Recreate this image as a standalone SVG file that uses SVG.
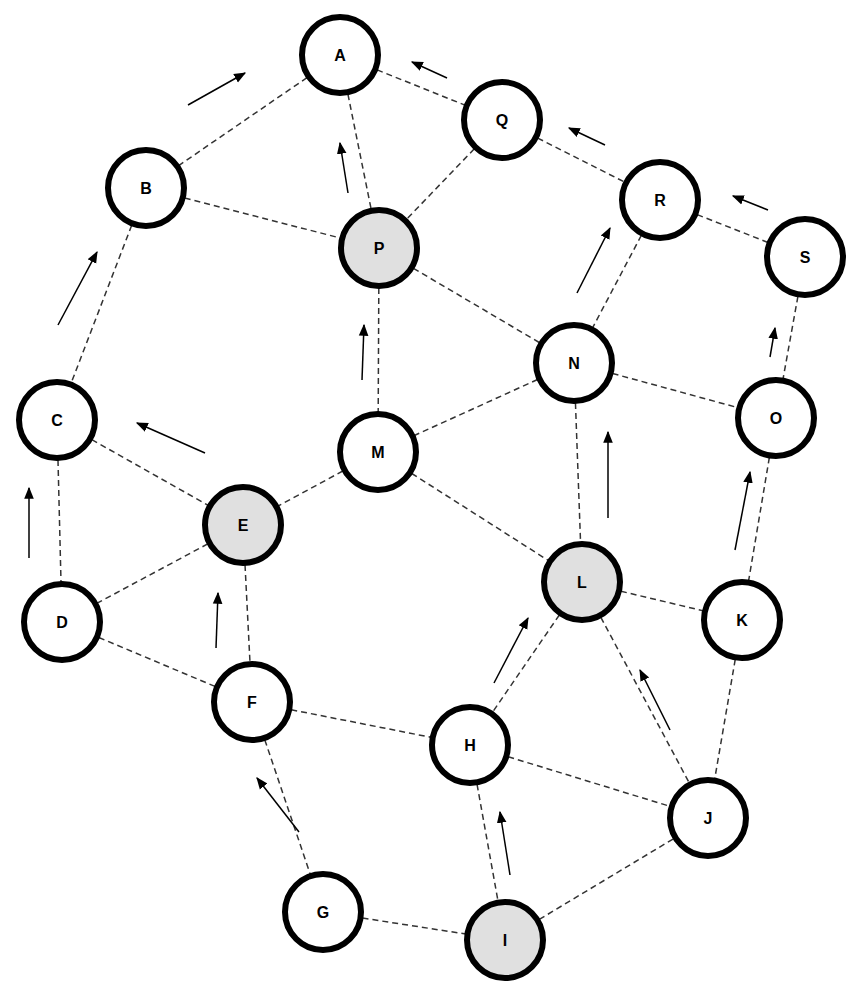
<svg xmlns="http://www.w3.org/2000/svg" width="866" height="1000" viewBox="0 0 866 1000">
<style>
.e{stroke:#333;stroke-width:1.5;stroke-dasharray:6,4;fill:none}
.a{stroke:#000;stroke-width:1.5;fill:none;marker-end:url(#h)}
.n circle{fill:#fff;stroke:#000;stroke-width:6}
.g circle{fill:#e0e0e0}
.n text{font-family:"Liberation Sans",Arial,sans-serif;font-weight:bold;font-size:16px;text-anchor:middle;dominant-baseline:central}
</style>
<defs><marker id="h" viewBox="0 0 10 10" refX="9" refY="5" markerWidth="8" markerHeight="8" orient="auto"><path d="M0,1 L10,5 L0,9 z" fill="#000"/></marker></defs>
<rect width="866" height="1000" fill="#fff"/>
<g id="connectors">
<line class="e" x1="340" y1="55" x2="146" y2="188"/>
<line class="e" x1="340" y1="55" x2="379" y2="248"/>
<line class="e" x1="340" y1="55" x2="502" y2="120"/>
<line class="e" x1="146" y1="188" x2="379" y2="248"/>
<line class="e" x1="146" y1="188" x2="57" y2="420"/>
<line class="e" x1="502" y1="120" x2="379" y2="248"/>
<line class="e" x1="502" y1="120" x2="660" y2="200"/>
<line class="e" x1="660" y1="200" x2="805" y2="257"/>
<line class="e" x1="660" y1="200" x2="574" y2="363"/>
<line class="e" x1="379" y1="248" x2="574" y2="363"/>
<line class="e" x1="379" y1="248" x2="378" y2="452"/>
<line class="e" x1="574" y1="363" x2="776" y2="418"/>
<line class="e" x1="574" y1="363" x2="378" y2="452"/>
<line class="e" x1="574" y1="363" x2="582" y2="582"/>
<line class="e" x1="805" y1="257" x2="776" y2="418"/>
<line class="e" x1="776" y1="418" x2="742" y2="620"/>
<line class="e" x1="57" y1="420" x2="243" y2="525"/>
<line class="e" x1="57" y1="420" x2="62" y2="622"/>
<line class="e" x1="378" y1="452" x2="243" y2="525"/>
<line class="e" x1="378" y1="452" x2="582" y2="582"/>
<line class="e" x1="243" y1="525" x2="62" y2="622"/>
<line class="e" x1="243" y1="525" x2="252" y2="702"/>
<line class="e" x1="62" y1="622" x2="252" y2="702"/>
<line class="e" x1="582" y1="582" x2="742" y2="620"/>
<line class="e" x1="582" y1="582" x2="470" y2="745"/>
<line class="e" x1="582" y1="582" x2="708" y2="818"/>
<line class="e" x1="742" y1="620" x2="708" y2="818"/>
<line class="e" x1="252" y1="702" x2="470" y2="745"/>
<line class="e" x1="252" y1="702" x2="323" y2="912"/>
<line class="e" x1="470" y1="745" x2="708" y2="818"/>
<line class="e" x1="470" y1="745" x2="505" y2="940"/>
<line class="e" x1="323" y1="912" x2="505" y2="940"/>
<line class="e" x1="505" y1="940" x2="708" y2="818"/>
<line class="a" x1="188" y1="105" x2="245" y2="73"/>
<line class="a" x1="348" y1="193" x2="340" y2="143"/>
<line class="a" x1="447" y1="78" x2="412" y2="62"/>
<line class="a" x1="605" y1="145" x2="569" y2="128"/>
<line class="a" x1="768" y1="210" x2="733" y2="196"/>
<line class="a" x1="577" y1="293" x2="610" y2="228"/>
<line class="a" x1="362" y1="380" x2="364" y2="325"/>
<line class="a" x1="58" y1="325" x2="97" y2="252"/>
<line class="a" x1="205" y1="453" x2="137" y2="423"/>
<line class="a" x1="29" y1="558" x2="29" y2="488"/>
<line class="a" x1="216" y1="648" x2="218" y2="593"/>
<line class="a" x1="608" y1="518" x2="608" y2="432"/>
<line class="a" x1="494" y1="683" x2="528" y2="618"/>
<line class="a" x1="670" y1="730" x2="640" y2="670"/>
<line class="a" x1="735" y1="550" x2="750" y2="472"/>
<line class="a" x1="770" y1="357" x2="775" y2="328"/>
<line class="a" x1="510" y1="875" x2="500" y2="812"/>
<line class="a" x1="299" y1="832" x2="257" y2="778"/>
</g>
<g id="A" class="n"><circle cx="340" cy="55" r="38"/><text x="340" y="55">A</text></g>
<g id="Q" class="n"><circle cx="502" cy="120" r="38"/><text x="502" y="120">Q</text></g>
<g id="B" class="n"><circle cx="146" cy="188" r="38"/><text x="146" y="188">B</text></g>
<g id="P" class="n g"><circle cx="379" cy="248" r="38"/><text x="379" y="248">P</text></g>
<g id="R" class="n"><circle cx="660" cy="200" r="38"/><text x="660" y="200">R</text></g>
<g id="S" class="n"><circle cx="805" cy="257" r="38"/><text x="805" y="257">S</text></g>
<g id="N" class="n"><circle cx="574" cy="363" r="38"/><text x="574" y="363">N</text></g>
<g id="O" class="n"><circle cx="776" cy="418" r="38"/><text x="776" y="418">O</text></g>
<g id="C" class="n"><circle cx="57" cy="420" r="38"/><text x="57" y="420">C</text></g>
<g id="M" class="n"><circle cx="378" cy="452" r="38"/><text x="378" y="452">M</text></g>
<g id="E" class="n g"><circle cx="243" cy="525" r="38"/><text x="243" y="525">E</text></g>
<g id="L" class="n g"><circle cx="582" cy="582" r="38"/><text x="582" y="582">L</text></g>
<g id="K" class="n"><circle cx="742" cy="620" r="38"/><text x="742" y="620">K</text></g>
<g id="D" class="n"><circle cx="62" cy="622" r="38"/><text x="62" y="622">D</text></g>
<g id="F" class="n"><circle cx="252" cy="702" r="38"/><text x="252" y="702">F</text></g>
<g id="H" class="n"><circle cx="470" cy="745" r="38"/><text x="470" y="745">H</text></g>
<g id="J" class="n"><circle cx="708" cy="818" r="38"/><text x="708" y="818">J</text></g>
<g id="G" class="n"><circle cx="323" cy="912" r="38"/><text x="323" y="912">G</text></g>
<g id="I" class="n g"><circle cx="505" cy="940" r="38"/><text x="505" y="940">I</text></g>
</svg>
